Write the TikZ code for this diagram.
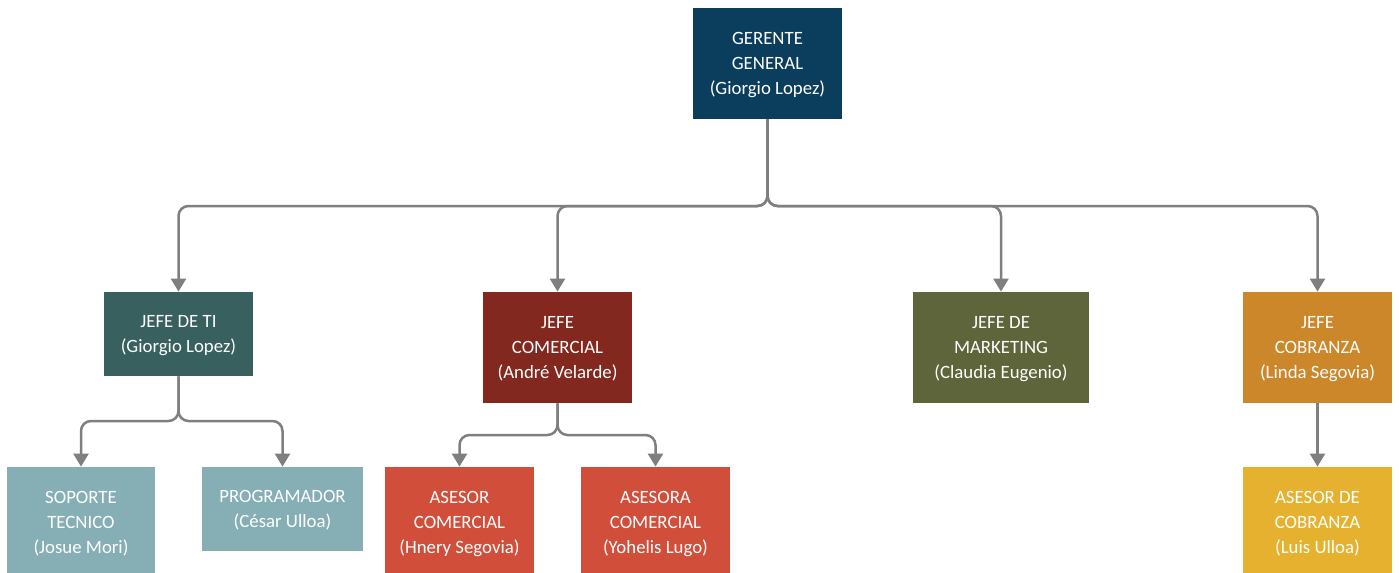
\documentclass[tikz,border=0pt]{standalone}
\usepackage{fontspec}
\setmainfont{Carlito}
\usetikzlibrary{arrows.meta}
\definecolor{cGerente}{HTML}{0B3D5C}
\definecolor{cTI}{HTML}{37605E}
\definecolor{cTIsub}{HTML}{86AFB5}
\definecolor{cComercial}{HTML}{82281F}
\definecolor{cAsesor}{HTML}{D04E3A}
\definecolor{cMarketing}{HTML}{5F653A}
\definecolor{cCobranza}{HTML}{CC872B}
\definecolor{cAsesorCob}{HTML}{E6B12E}
\definecolor{cLinea}{HTML}{7F7F7F}
\tikzset{
  cargo/.style={rectangle, minimum width=74.5pt, minimum height=55.5pt,
    text=white, align=center, inner sep=2pt, text depth=0pt,
    font=\fontsize{9.4}{12.5}\selectfont},
  cargobajo/.style={cargo, minimum height=42pt},
  enlace/.style={draw=cLinea, line width=1.25pt, rounded corners=5pt,
    -{Triangle[width=7.5pt,length=6.5pt]}}
}
\begin{document}
\begin{tikzpicture}[x=0.5pt, y=-0.5pt]
  \useasboundingbox (0,0) rectangle (1399,573);
  \clip (0,0) rectangle (1399,573);
  % nivel 1
  \node[cargo, fill=cGerente] (gerente) at (767.5,63.5) {GERENTE\\GENERAL\\(Giorgio Lopez)};
  % nivel 2
  \node[cargobajo, fill=cTI] (ti) at (178.5,334) {JEFE DE TI\\(Giorgio Lopez)};
  \node[cargo, fill=cComercial] (comercial) at (557.5,347.5) {JEFE\\COMERCIAL\\(André Velarde)};
  \node[cargo, fill=cMarketing, minimum width=88pt] (marketing) at (1001,347.5) {JEFE DE\\MARKETING\\(Claudia Eugenio)};
  \node[cargo, fill=cCobranza] (cobranza) at (1317.5,347.5) {JEFE\\COBRANZA\\(Linda Segovia)};
  % nivel 3
  \node[cargo, fill=cTIsub, minimum width=74pt] (soporte) at (81,522.5) {SOPORTE\\TECNICO\\(Josue Mori)};
  \node[cargobajo, fill=cTIsub, minimum width=80.5pt] (programador) at (282.5,509) {PROGRAMADOR\\(César Ulloa)};
  \node[cargo, fill=cAsesor] (asesor) at (459.5,522.5) {ASESOR\\COMERCIAL\\(Hnery Segovia)};
  \node[cargo, fill=cAsesor] (asesora) at (655.5,522.5) {ASESORA\\COMERCIAL\\(Yohelis Lugo)};
  \node[cargo, fill=cAsesorCob] (asesorcob) at (1317.5,522.5) {ASESOR DE\\COBRANZA\\(Luis Ulloa)};
  % conectores
  \coordinate (barra1) at (0,206);
  \foreach \hijo in {ti,comercial,marketing,cobranza}
    \draw[enlace] (gerente.south) -- (gerente.south |- barra1) -| (\hijo.north);
  \coordinate (barra2) at (0,421);
  \foreach \hijo in {soporte,programador}
    \draw[enlace] (ti.south) -- (ti.south |- barra2) -| (\hijo.north);
  \coordinate (barra3) at (0,435);
  \foreach \hijo in {asesor,asesora}
    \draw[enlace] (comercial.south) -- (comercial.south |- barra3) -| (\hijo.north);
  \draw[enlace] (cobranza.south) -- (asesorcob.north);
\end{tikzpicture}
\end{document}
